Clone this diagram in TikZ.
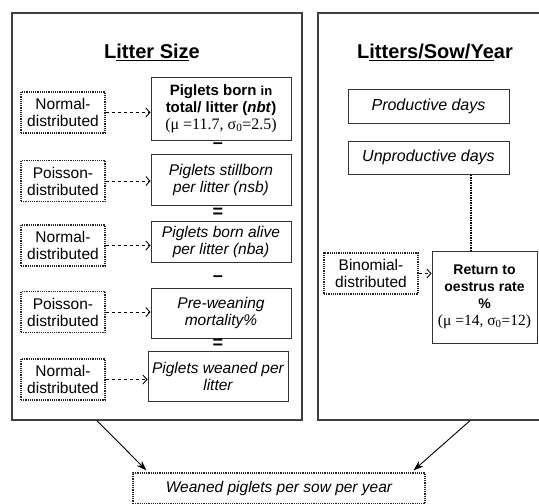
\documentclass[tikz,border=0pt]{standalone}
\usepackage{fontspec}
\usetikzlibrary{arrows.meta}
\setmainfont{Liberation Sans}
\newfontfamily\timesfont{Liberation Serif}
\begin{document}
\begin{tikzpicture}[x=1pt,y=-1pt,>={Stealth[length=10pt,width=7pt]},
  every node/.style={font=\fontsize{15.5}{17}\selectfont,inner sep=0pt},
  panel/.style={draw=black!75,line width=1.3pt},
  paneltitle/.style={font=\fontsize{20}{24}\bfseries\selectfont},
  solidbox/.style={draw=black!80,line width=1pt,align=center},
  italicbox/.style={solidbox,font=\fontsize{15.5}{17}\itshape\selectfont},
  distbox/.style={draw=black!85,densely dotted,line width=1.2pt,align=center,minimum width=84pt,minimum height=41pt},
  distarrow/.style={-{Straight Barb[length=4pt,width=9pt]},dash pattern=on 3.5pt off 2.5pt,line width=0.9pt},
  sign/.style={font=\fontsize{18}{18}\bfseries\selectfont}]
\useasboundingbox (0,0) rectangle (539,504);
\clip (0,0) rectangle (539,504);
% the two panels
\node[panel,minimum width=290pt,minimum height=407pt] (litter) at (157,216.5) {};
\node[panel,minimum width=244pt,minimum height=407pt] (sowyear) at (440,216.5) {};
\node[paneltitle] (littertitle) at (152,52) {L\underline{itter Siz}e};
\node[paneltitle] (sowyeartitle) at (435,52) {L\underline{itters/Sow/Ye}ar};
% litter size chain
\node[solidbox,minimum width=140pt,minimum height=63pt,font=\fontsize{15}{17}\bfseries\selectfont] (nbt) at (221,108.5)
  {Piglets born {\fontsize{13}{14}\selectfont in}\\
   total/ litter (\textit{nbt})\\
   {\mdseries\timesfont\fontsize{16}{18}\selectfont (μ =11.7, σ\textsubscript{0}=2.5)}};
\node[italicbox,minimum width=140pt,minimum height=51pt] (nsb) at (221,179.5)
  {Piglets stillborn\\ per litter (nsb)};
\node[italicbox,minimum width=140pt,minimum height=41pt] (nba) at (221,241.5)
  {Piglets born alive\\ per litter (nba)};
\node[italicbox,minimum width=140pt,minimum height=50pt] (mort) at (221,313)
  {Pre-weaning\\ mortality\%};
\node[italicbox,minimum width=140pt,minimum height=50pt] (weaned) at (218,376)
  {Piglets weaned per\\ litter};
\node[sign] (minusa) at (218,146) {–};
\node[sign] (equala) at (218,213) {=};
\node[sign] (minusb) at (218,279) {–};
\node[sign] (equalb) at (218,343.5) {=};
\node[distbox] (dista) at (63,112.5) {Normal-\\ distributed};
\node[distbox] (distb) at (63,181) {Poisson-\\ distributed};
\node[distbox] (distc) at (63,245.5) {Normal-\\ distributed};
\node[distbox] (distd) at (63,312) {Poisson-\\ distributed};
\node[distbox] (diste) at (63,379.5) {Normal-\\ distributed};
\draw[distarrow] (dista) -- (dista -| nbt.west);
\draw[distarrow] (distb) -- (distb -| nsb.west);
\draw[distarrow] (distc) -- (distc -| nba.west);
\draw[distarrow] (distd) -- (distd -| mort.west);
\draw[distarrow] (diste) -- (diste -| weaned.west);
% litters per sow per year
\node[italicbox,minimum width=161pt,minimum height=34pt,font=\fontsize{16}{18}\itshape\selectfont] (prod) at (428.5,106)
  {Productive days};
\node[italicbox,minimum width=161pt,minimum height=33pt,font=\fontsize{16}{18}\itshape\selectfont] (unprod) at (428.5,157.5)
  {Unproductive days};
\node[solidbox,minimum width=105pt,minimum height=92pt,font=\fontsize{14}{17}\bfseries\selectfont] (ret) at (484.5,297)
  {Return to\\ oestrus rate\\ \%\\
   {\mdseries\timesfont\fontsize{15.5}{20}\selectfont (μ =14, σ\textsubscript{0}=12)}};
\node[distbox,minimum width=94pt] (binom) at (371,273.5) {Binomial-\\ distributed};
\draw[densely dotted,line width=1.5pt] ([xshift=42.5pt]unprod.south) -- ([xshift=-13.5pt]ret.north);
\draw[distarrow] (binom) -- (binom -| ret.west);
% result
\node[distbox,minimum width=292pt,minimum height=31pt,font=\fontsize{15.5}{17}\itshape\selectfont] (total) at (279,488.5)
  {Weaned piglets per sow per year};
\draw[->,line width=0.9pt] ([xshift=-60pt]litter.south) -- ([xshift=14pt,yshift=2pt]total.north west);
\draw[->,line width=0.9pt] ([xshift=30pt]sowyear.south) -- ([xshift=-12pt,yshift=2pt]total.north east);
\end{tikzpicture}
\end{document}
